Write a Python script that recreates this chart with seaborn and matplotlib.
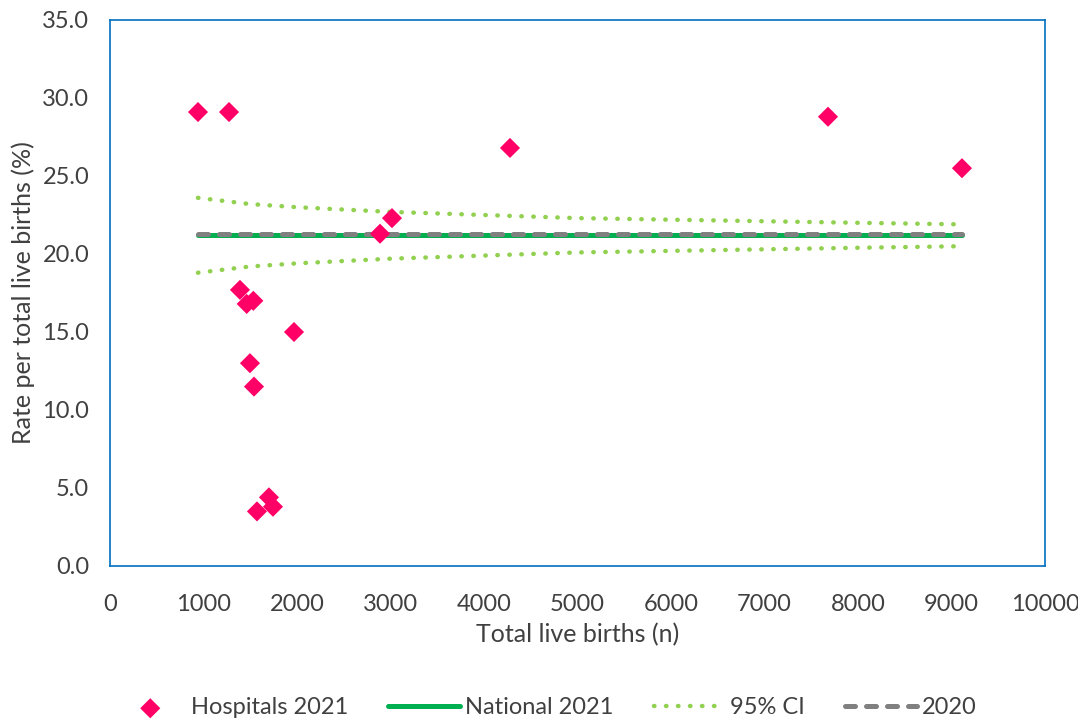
import numpy as np
import pandas as pd
import seaborn as sns
import matplotlib.pyplot as plt

# hospitals 2021: total live births and rate (%)
births = [941, 1273, 1390, 1462, 1533, 1497, 1540, 1968, 1700, 1743, 1572, 2888, 3016, 4278, 7679, 9112]
rates = [29.1, 29.1, 17.7, 16.8, 17.0, 13.0, 11.5, 15.0, 4.4, 3.8, 3.5, 21.3, 22.3, 26.8, 28.8, 25.5]

national_2021 = 21.2
rate_2020 = 21.3

# 95% CI funnel
ci_n = [941, 1500, 2000, 3000, 4000, 5000, 6000, 7000, 8000, 9112]
ci_upper = [23.6, 23.2, 23.0, 22.7, 22.5, 22.3, 22.2, 22.1, 22.0, 21.9]
ci_lower = [18.8, 19.2, 19.4, 19.7, 19.9, 20.1, 20.2, 20.3, 20.4, 20.5]

sns.set_style("white")
plt.rcParams["font.family"] = ["Lato", "DejaVu Sans"]

fig = plt.figure(figsize=(10.78, 7.2), dpi=100)
ax = fig.add_axes([110 / 1078, 1 - 566 / 720, 935 / 1078, 546 / 720])

span = [min(births), max(births)]
lines = pd.DataFrame({
    "n": span * 2,
    "rate": [national_2021] * 2 + [rate_2020] * 2,
    "series": ["National 2021"] * 2 + ["2020"] * 2,
})
ci = pd.DataFrame({"n": ci_n, "upper": ci_upper, "lower": ci_lower})

dot = (0, (0.1, 2.6))
sns.lineplot(data=lines[lines.series == "National 2021"], x="n", y="rate", ax=ax,
             color="#00B050", lw=3.6, solid_capstyle="round", label="National 2021", zorder=2)
sns.lineplot(data=ci, x="n", y="upper", ax=ax, color="#92D050", lw=3.2,
             linestyle=dot, dash_capstyle="round", label="95% CI", zorder=2)
sns.lineplot(data=ci, x="n", y="lower", ax=ax, color="#92D050", lw=3.2,
             linestyle=dot, dash_capstyle="round", zorder=2)
sns.lineplot(data=lines[lines.series == "2020"], x="n", y="rate", ax=ax,
             color="#808080", lw=3.6, linestyle=(0, (2, 2.2)), dash_capstyle="round",
             label="2020", zorder=3)
sns.scatterplot(x=births, y=rates, ax=ax, marker="D", s=105, color="#FF0066",
                edgecolor="none", label="Hospitals 2021", zorder=4)

ax.set_xlim(0, 10000)
ax.set_ylim(0, 35)
ax.set_xticks(range(0, 10001, 1000))
ax.set_yticks(np.arange(0, 35.1, 5))
ax.set_yticklabels([f"{v:.1f}" for v in np.arange(0, 35.1, 5)])
ax.tick_params(labelsize=17, colors="#404040", length=0)
ax.tick_params(axis="x", pad=20)
ax.tick_params(axis="y", pad=15)
ax.set_xlabel("Total live births (n)", fontsize=18, color="#404040", labelpad=6)
ax.set_ylabel("Rate per total live births (%)", fontsize=18, color="#404040", labelpad=5)
for s in ax.spines.values():
    s.set_color("#0070C0")
    s.set_linewidth(1.2)

h, l = ax.get_legend_handles_labels()
order = [l.index(k) for k in ["Hospitals 2021", "National 2021", "95% CI", "2020"]]
ax.legend([h[i] for i in order], [l[i] for i in order], loc="center",
          bbox_to_anchor=(0.5 - 32 / 935, -0.26), ncol=4, frameon=False,
          fontsize=17, handlelength=3.05, columnspacing=1.7, handletextpad=0.2,
          labelcolor="#404040")

fig.savefig("out.png", dpi=100)
